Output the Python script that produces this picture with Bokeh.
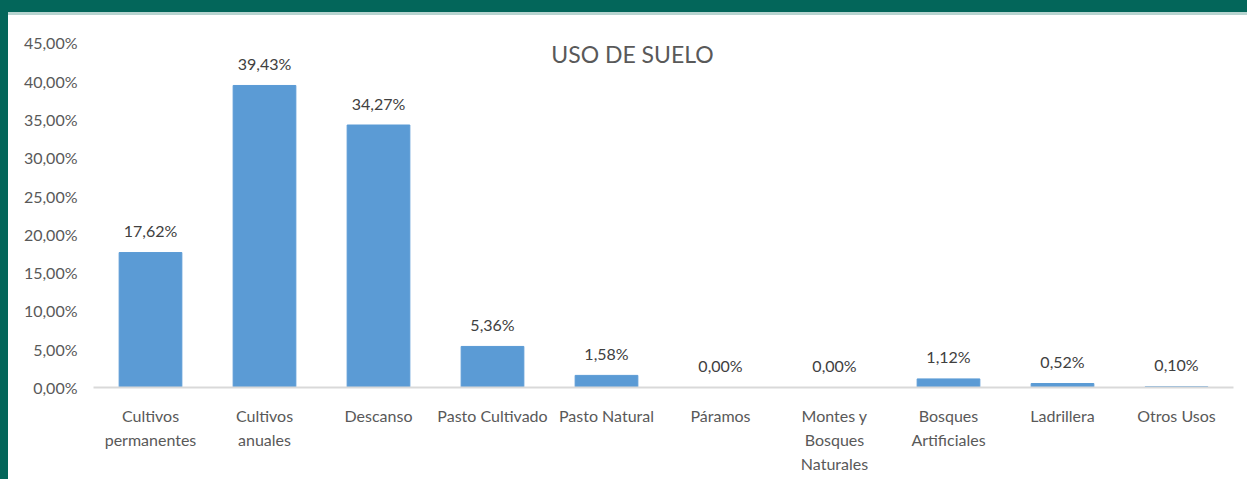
from bokeh.plotting import figure
from bokeh.models import FixedTicker, Label, ColumnDataSource, LinearAxis
from bokeh.core.properties import value
from bokeh.embed import file_html
from bokeh.resources import INLINE

# ---- data ----
categories = ["Cultivos permanentes", "Cultivos anuales", "Descanso", "Pasto Cultivado",
              "Pasto Natural", "Páramos", "Montes y Bosques Naturales",
              "Bosques Artificiales", "Ladrillera", "Otros Usos"]
label_line1 = ["Cultivos", "Cultivos", "Descanso", "Pasto Cultivado", "Pasto Natural",
               "Páramos", "Montes y", "Bosques", "Ladrillera", "Otros Usos"]
label_line2 = ["permanentes", "anuales", "", "", "", "", "Bosques", "Artificiales", "", ""]
label_line3 = ["", "", "", "", "", "", "Naturales", "", "", ""]
values = [17.62, 39.43, 34.27, 5.36, 1.58, 0.00, 0.00, 1.12, 0.52, 0.10]
y_ticks = [0, 5, 10, 15, 20, 25, 30, 35, 40, 45]
y_tick_labels = ["0,00%", "5,00%", "10,00%", "15,00%", "20,00%", "25,00%",
                 "30,00%", "35,00%", "40,00%", "45,00%"]
title_text = "USO DE SUELO"

FONT = "Lato"
AXIS_COLOR = "#595959"
BAR_COLOR = "#5b9bd5"
FS = "16px"

xs = list(range(len(categories)))
src = ColumnDataSource(dict(
    x=xs,
    cat=categories,
    val=values,
    lbl=[f"{v:.2f}".replace(".", ",") + "%" for v in values],
))

p = figure(x_range=(-0.5, len(categories) - 0.5), y_range=(0, 47), width=1239, height=464,
           output_backend="svg", toolbar_location=None,
           min_border_left=85, min_border_right=14, min_border_top=12, min_border_bottom=92)
p.margin = (15, 0, 0, 8)
p.background_fill_color = "white"
p.border_fill_color = "white"
p.outline_line_color = None
p.xgrid.grid_line_color = None
p.ygrid.grid_line_color = None

p.vbar(x="x", top="val", width=0.55, source=src, fill_color=BAR_COLOR, line_color=BAR_COLOR)
p.text(x="x", y="val", text="lbl", source=src, y_offset=-22,
       text_align="center", text_baseline="middle",
       text_font=value(FONT), text_font_size=FS, text_color="#404040")

# y axis
p.yaxis.ticker = FixedTicker(ticks=y_ticks)
p.yaxis.major_label_overrides = {t: l for t, l in zip(y_ticks, y_tick_labels)}
p.yaxis.axis_line_color = None
p.yaxis.major_tick_line_color = None
p.yaxis.major_tick_out = 0
p.yaxis.major_tick_in = 0
p.yaxis.minor_tick_line_color = None
p.yaxis.major_label_standoff = 16
p.yaxis.major_label_text_font = FONT
p.yaxis.major_label_text_font_size = FS
p.yaxis.major_label_text_color = AXIS_COLOR
p.yaxis.major_label_text_baseline = "middle"


def style_xaxis(ax, lines, standoff, show_line):
    ax.ticker = FixedTicker(ticks=xs)
    ax.major_label_overrides = {i: l for i, l in zip(xs, lines)}
    ax.axis_line_color = "#d9d9d9" if show_line else None
    ax.axis_line_width = 2
    ax.major_tick_line_color = None
    ax.major_tick_out = 0
    ax.major_tick_in = 0
    ax.minor_tick_line_color = None
    ax.major_label_standoff = standoff
    ax.major_label_text_font = FONT
    ax.major_label_text_font_size = FS
    ax.major_label_text_color = AXIS_COLOR


style_xaxis(p.xaxis[0], label_line1, 18, True)
ax2 = LinearAxis()
style_xaxis(ax2, label_line2, 2, False)
p.add_layout(ax2, "below")
ax3 = LinearAxis()
style_xaxis(ax3, label_line3, 2, False)
p.add_layout(ax3, "below")

p.add_layout(Label(x=539, y=334, x_units="screen", y_units="screen", text=title_text,
                   text_align="center", text_baseline="middle",
                   text_font=FONT, text_font_size="23px", text_color=AXIS_COLOR))

html = file_html(p, INLINE, title=title_text)
css = """<style>
html, body { overflow: hidden; margin: 0; padding: 0; height: 100%; }
body { background:
 linear-gradient(#03665a,#03665a) 0 0/8px 100% no-repeat,
 linear-gradient(#03665a,#03665a) 0 0/100% 12px no-repeat,
 linear-gradient(#b7d4d0,#b7d4d0) 0 12px/100% 3px no-repeat,
 #ffffff; }
</style>"""
html = html.replace("</head>", css + "</head>", 1)
open("out.html", "w").write(html)
